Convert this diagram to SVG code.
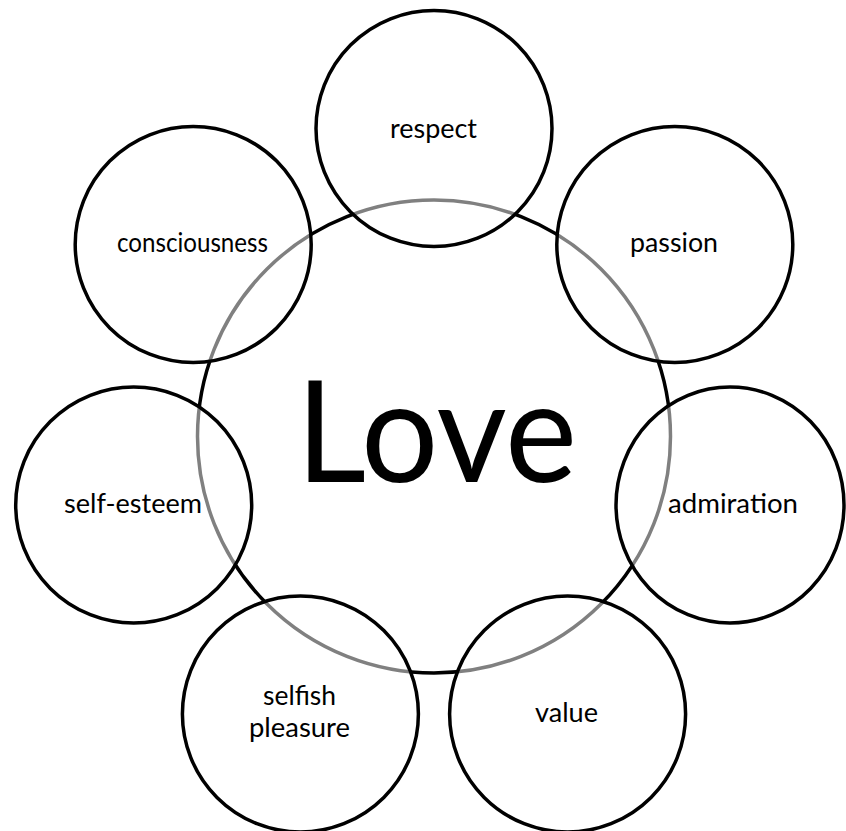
<svg xmlns="http://www.w3.org/2000/svg" width="846" height="831" viewBox="0 0 846 831">
<style>
.bg{fill:#ffffff}
.center{fill:none;stroke:#000000;stroke-width:3.5}
.petal{fill:#ffffff;fill-opacity:0.5;stroke:#000000;stroke-width:3.5}
.lbl{font-family:Lato,"Open Sans","Liberation Sans",sans-serif;font-size:27px;fill:#000000;text-anchor:middle}
.big{font-family:Lato,"Open Sans","Liberation Sans",sans-serif;font-size:141px;fill:#000000;text-anchor:middle}
</style>
<rect class="bg" x="0" y="0" width="846" height="831"/>
<g id="love">
<circle class="center" cx="434" cy="436.5" r="236.5"/>
<text class="big" x="436.5" y="482" textLength="281" lengthAdjust="spacingAndGlyphs">Love</text>
</g>
<g id="connectors"/>
<g id="respect">
<circle class="petal" cx="434" cy="128.5" r="118"/>
<text class="lbl" x="433.5" y="138" textLength="87" lengthAdjust="spacingAndGlyphs">respect</text>
</g>
<g id="passion">
<circle class="petal" cx="674.8" cy="244.5" r="118"/>
<text class="lbl" x="674" y="252" textLength="88" lengthAdjust="spacingAndGlyphs">passion</text>
</g>
<g id="admiration">
<ellipse class="petal" cx="730" cy="505" rx="114" ry="118"/>
<text class="lbl" x="733" y="513" textLength="130" lengthAdjust="spacingAndGlyphs">admiration</text>
</g>
<g id="value">
<circle class="petal" cx="567.6" cy="714" r="118"/>
<text class="lbl" x="566.5" y="722" textLength="63" lengthAdjust="spacingAndGlyphs">value</text>
</g>
<g id="selfish-pleasure">
<circle class="petal" cx="300.4" cy="714" r="118"/>
<text class="lbl" x="299.5" y="705" textLength="73" lengthAdjust="spacingAndGlyphs">selfish</text>
<text class="lbl" x="299.5" y="737" textLength="101" lengthAdjust="spacingAndGlyphs">pleasure</text>
</g>
<g id="self-esteem">
<circle class="petal" cx="133.7" cy="505" r="118"/>
<text class="lbl" x="133" y="513" textLength="138" lengthAdjust="spacingAndGlyphs">self-esteem</text>
</g>
<g id="consciousness">
<circle class="petal" cx="193.2" cy="244.5" r="118"/>
<text class="lbl" x="192.5" y="252" textLength="151" lengthAdjust="spacingAndGlyphs">consciousness</text>
</g>
</svg>
